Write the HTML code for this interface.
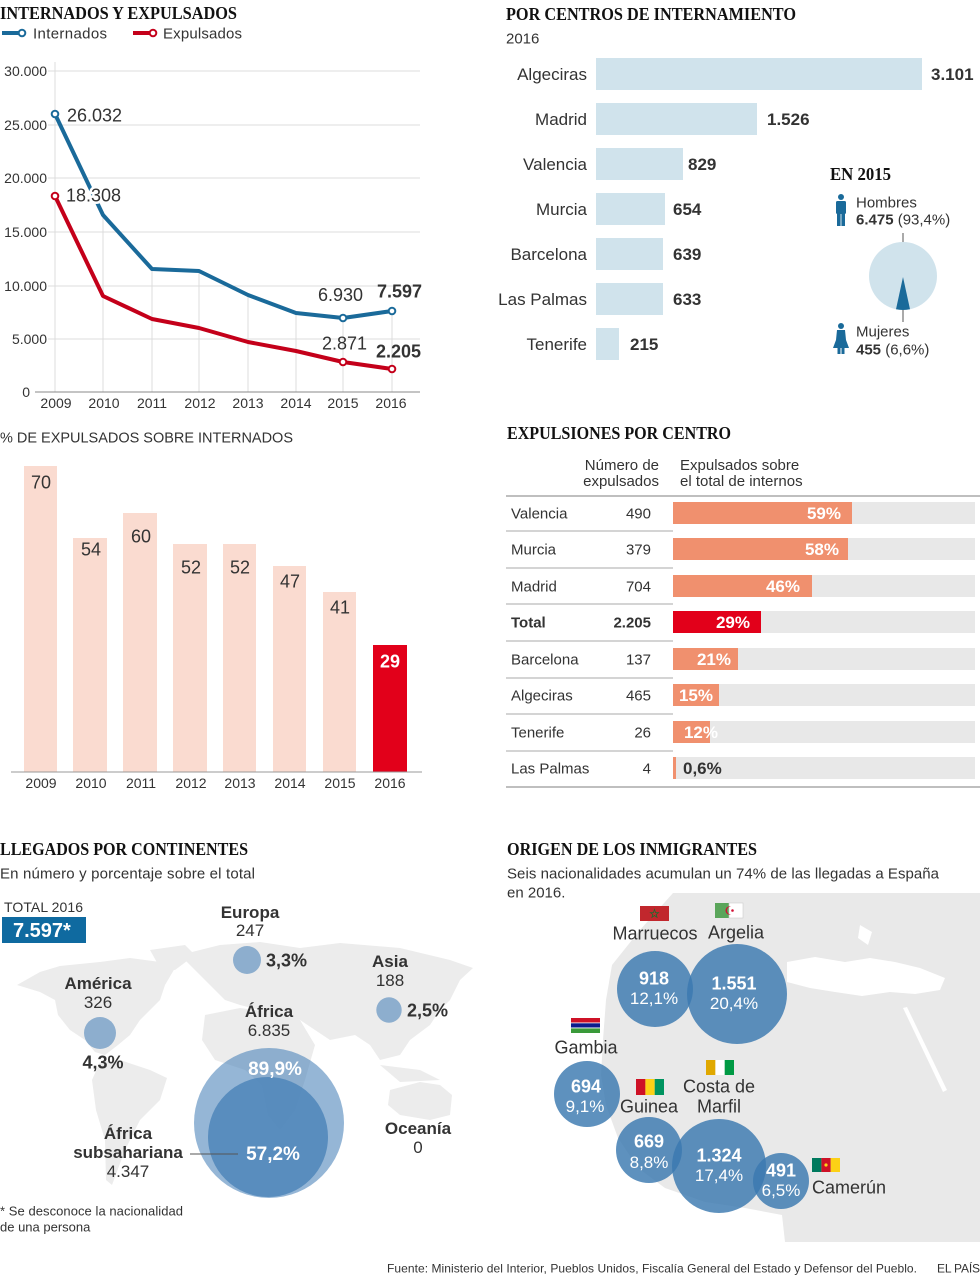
<!DOCTYPE html>
<html><head><meta charset="utf-8"><style>
html,body{margin:0;padding:0;background:#fff;}
svg{display:block;}
text{font-family:"Liberation Sans",sans-serif;fill:#333;}
.t{font-family:"Liberation Serif",serif;font-weight:bold;fill:#111;font-size:18px;}
.b{font-weight:bold;}
.w{fill:#fff;}
.halo{paint-order:stroke;stroke:#fff;stroke-width:5px;stroke-linejoin:round;}
</style></head><body>
<svg width="980" height="1280" viewBox="0 0 980 1280" xmlns="http://www.w3.org/2000/svg">
<rect width="980" height="1280" fill="#fff"/>

<!-- ============ LINE CHART ============ -->
<text class="t" x="0" y="19" textLength="237" lengthAdjust="spacingAndGlyphs">INTERNADOS Y EXPULSADOS</text>
<line x1="2" y1="33" x2="20" y2="33" stroke="#1a6a9a" stroke-width="4"/>
<circle cx="22" cy="33" r="3.3" fill="#fff" stroke="#1a6a9a" stroke-width="2"/>
<text x="33" y="38.5" font-size="15" textLength="74">Internados</text>
<line x1="133" y1="33" x2="151" y2="33" stroke="#c4001a" stroke-width="4"/>
<circle cx="153" cy="33" r="3.3" fill="#fff" stroke="#c4001a" stroke-width="2"/>
<text x="163" y="38.5" font-size="15" textLength="79">Expulsados</text>

<g stroke="#dcdcdc" stroke-width="1">
<line x1="48" y1="71" x2="420" y2="71"/>
<line x1="48" y1="125" x2="420" y2="125"/>
<line x1="48" y1="178" x2="420" y2="178"/>
<line x1="48" y1="232" x2="420" y2="232"/>
<line x1="48" y1="286" x2="420" y2="286"/>
<line x1="48" y1="339" x2="420" y2="339"/>
<line x1="55" y1="62" x2="55" y2="392"/>
<line x1="103" y1="215" x2="103" y2="392"/>
<line x1="152" y1="269" x2="152" y2="392"/>
<line x1="199" y1="271" x2="199" y2="392"/>
<line x1="248" y1="295" x2="248" y2="392"/>
<line x1="296" y1="313" x2="296" y2="392"/>
<line x1="343" y1="318" x2="343" y2="392"/>
<line x1="392" y1="311" x2="392" y2="392"/>
</g>
<line x1="35" y1="392" x2="420" y2="392" stroke="#888" stroke-width="1"/>
<g font-size="14" text-anchor="end" fill="#555">
<text x="47" y="76">30.000</text>
<text x="47" y="130">25.000</text>
<text x="47" y="183">20.000</text>
<text x="47" y="237">15.000</text>
<text x="47" y="291">10.000</text>
<text x="47" y="344">5.000</text>
<text x="30" y="397">0</text>
</g>
<g font-size="14" text-anchor="middle">
<text x="56" y="408">2009</text><text x="104" y="408">2010</text><text x="152" y="408">2011</text><text x="200" y="408">2012</text>
<text x="248" y="408">2013</text><text x="296" y="408">2014</text><text x="343" y="408">2015</text><text x="391" y="408">2016</text>
</g>
<polyline points="55,114 103,215 152,269 199,271 248,295 296,313 343,318 392,311" fill="none" stroke="#1a6a9a" stroke-width="4" stroke-linejoin="round"/>
<polyline points="55,196 103,296 152,319 199,328 248,342 296,351 343,362 392,369" fill="none" stroke="#c4001a" stroke-width="4" stroke-linejoin="round"/>
<g fill="#fff" stroke-width="2">
<circle cx="55" cy="114" r="3.3" stroke="#1a6a9a"/><circle cx="343" cy="318" r="3.3" stroke="#1a6a9a"/><circle cx="392" cy="311" r="3.3" stroke="#1a6a9a"/>
<circle cx="55" cy="196" r="3.3" stroke="#c4001a"/><circle cx="343" cy="362" r="3.3" stroke="#c4001a"/><circle cx="392" cy="369" r="3.3" stroke="#c4001a"/>
</g>
<g font-size="18" fill="#444">
<text x="67" y="121.5">26.032</text>
<text x="66" y="201.5" class="halo">18.308</text>
<text x="318" y="301">6.930</text>
<text x="322" y="349.5">2.871</text>
<text x="377" y="297.5" class="b">7.597</text>
<text x="376" y="357.5" class="b">2.205</text>
</g>

<!-- ============ POR CENTROS ============ -->
<text class="t" x="506" y="20" textLength="290" lengthAdjust="spacingAndGlyphs">POR CENTROS DE INTERNAMIENTO</text>
<text x="506" y="43.5" font-size="15">2016</text>
<g fill="#d0e3ec">
<rect x="596" y="58" width="326" height="32"/>
<rect x="596" y="103" width="161" height="32"/>
<rect x="596" y="148" width="87" height="32"/>
<rect x="596" y="193" width="69" height="32"/>
<rect x="596" y="238" width="67" height="32"/>
<rect x="596" y="283" width="67" height="32"/>
<rect x="596" y="328" width="23" height="32"/>
</g>
<g font-size="17" text-anchor="end" fill="#444">
<text x="587" y="80">Algeciras</text><text x="587" y="125">Madrid</text><text x="587" y="170">Valencia</text>
<text x="587" y="215">Murcia</text><text x="587" y="260">Barcelona</text><text x="587" y="305">Las Palmas</text><text x="587" y="350">Tenerife</text>
</g>
<g font-size="17" class="b">
<text x="931" y="80" class="b">3.101</text><text x="767" y="125" class="b">1.526</text><text x="688" y="170" class="b">829</text>
<text x="673" y="215" class="b">654</text><text x="673" y="260" class="b">639</text><text x="673" y="305" class="b">633</text><text x="630" y="350" class="b">215</text>
</g>
<text class="t" x="830" y="180" textLength="61" lengthAdjust="spacingAndGlyphs">EN 2015</text>
<g fill="#1a6a9a">
<circle cx="841" cy="197" r="3"/>
<rect x="836" y="201" width="10" height="13" rx="1.5"/>
<rect x="837" y="213" width="3.6" height="13"/>
<rect x="841.4" y="213" width="3.6" height="13"/>
</g>
<text x="856" y="207.5" font-size="15">Hombres</text>
<text x="856" y="224.5" font-size="15"><tspan class="b">6.475</tspan> (93,4%)</text>
<line x1="903" y1="233" x2="903" y2="248" stroke="#555" stroke-width="1"/>
<circle cx="903" cy="276" r="34" fill="#d0e3ec"/>
<path d="M903,277 L896,309.3 A34,34 0 0 0 910,309.3 Z" fill="#1a6a9a"/>
<line x1="903" y1="310" x2="903" y2="322" stroke="#555" stroke-width="1"/>
<g fill="#1a6a9a">
<circle cx="841" cy="326" r="3"/>
<path d="M837,330 L845,330 L846,340 L849,348 L833,348 L836,340 Z"/>
<rect x="837.5" y="347" width="3" height="7"/>
<rect x="841.5" y="347" width="3" height="7"/>
</g>
<text x="856" y="336.5" font-size="15">Mujeres</text>
<text x="856" y="354.5" font-size="15"><tspan class="b">455</tspan> (6,6%)</text>

<!-- ============ % BARS ============ -->
<text x="0" y="442.5" font-size="14.5" textLength="293">% DE EXPULSADOS SOBRE INTERNADOS</text>
<g fill="#fadbd0">
<rect x="24" y="466" width="33" height="306"/>
<rect x="73" y="538" width="34" height="234"/>
<rect x="123" y="513" width="34" height="259"/>
<rect x="173" y="544" width="34" height="228"/>
<rect x="223" y="544" width="33" height="228"/>
<rect x="273" y="566" width="33" height="206"/>
<rect x="323" y="592" width="33" height="180"/>
</g>
<rect x="373" y="645" width="34" height="127" fill="#e2001a"/>
<line x1="11" y1="772" x2="422" y2="772" stroke="#999" stroke-width="1"/>
<g font-size="18" text-anchor="middle" fill="#444">
<text x="41" y="488.5">70</text><text x="91" y="555.5">54</text><text x="141" y="542.5">60</text><text x="191" y="573.5">52</text>
<text x="240" y="573.5">52</text><text x="290" y="587.5">47</text><text x="340" y="613.5">41</text>
<text x="390" y="667.5" class="b w">29</text>
</g>
<g font-size="14" text-anchor="middle">
<text x="41" y="788">2009</text><text x="91" y="788">2010</text><text x="141" y="788">2011</text><text x="191" y="788">2012</text>
<text x="240" y="788">2013</text><text x="290" y="788">2014</text><text x="340" y="788">2015</text><text x="390" y="788">2016</text>
</g>

<!-- ============ TABLE ============ -->
<text class="t" x="507" y="439" textLength="224" lengthAdjust="spacingAndGlyphs">EXPULSIONES POR CENTRO</text>
<g font-size="15">
<text x="659" y="470" text-anchor="end">Número de</text>
<text x="659" y="486" text-anchor="end">expulsados</text>
<text x="680" y="470">Expulsados sobre</text>
<text x="680" y="486">el total de internos</text>
</g>
<line x1="506" y1="496" x2="980" y2="496" stroke="#999" stroke-width="1.2"/>
<line x1="506" y1="787" x2="980" y2="787" stroke="#999" stroke-width="1.2"/>
<g stroke="#bbb" stroke-width="1.2">
<line x1="506" y1="531" x2="673" y2="531"/><line x1="506" y1="568" x2="673" y2="568"/><line x1="506" y1="604" x2="673" y2="604"/>
<line x1="506" y1="641" x2="673" y2="641"/><line x1="506" y1="678" x2="673" y2="678"/><line x1="506" y1="714" x2="673" y2="714"/><line x1="506" y1="751" x2="673" y2="751"/>
</g>
<g fill="#e8e8e8">
<rect x="673" y="502" width="302" height="22"/><rect x="673" y="538" width="302" height="22"/><rect x="673" y="575" width="302" height="22"/>
<rect x="673" y="611" width="302" height="22"/><rect x="673" y="648" width="302" height="22"/><rect x="673" y="684" width="302" height="22"/>
<rect x="673" y="721" width="302" height="22"/><rect x="673" y="757" width="302" height="22"/>
</g>
<g fill="#f0906e">
<rect x="673" y="502" width="179" height="22"/><rect x="673" y="538" width="175" height="22"/><rect x="673" y="575" width="139" height="22"/>
<rect x="673" y="648" width="65" height="22"/><rect x="673" y="684" width="46" height="22"/>
<rect x="673" y="721" width="37" height="22"/><rect x="673" y="757" width="3" height="22"/>
</g>
<rect x="673" y="611" width="88" height="22" fill="#e2001a"/>
<g font-size="15">
<text x="511" y="518.5">Valencia</text><text x="511" y="554.5">Murcia</text><text x="511" y="591.5">Madrid</text>
<text x="511" y="627.5" class="b">Total</text><text x="511" y="664.5">Barcelona</text><text x="511" y="700.5">Algeciras</text>
<text x="511" y="737.5">Tenerife</text><text x="511" y="773.5">Las Palmas</text>
</g>
<g font-size="15" text-anchor="end">
<text x="651" y="518.5">490</text><text x="651" y="554.5">379</text><text x="651" y="591.5">704</text>
<text x="651" y="627.5" class="b">2.205</text><text x="651" y="664.5">137</text><text x="651" y="700.5">465</text>
<text x="651" y="737.5">26</text><text x="651" y="773.5">4</text>
</g>
<g font-size="17" text-anchor="end" class="b">
<text x="841" y="519" class="b w">59%</text><text x="839" y="555" class="b w">58%</text><text x="800" y="592" class="b w">46%</text>
<text x="750" y="628" class="b w">29%</text><text x="731" y="665" class="b w">21%</text><text x="713" y="701" class="b w">15%</text>
<text x="718" y="738" class="b w">12%</text>
</g>
<text x="683" y="774" font-size="17" class="b">0,6%</text>

<!-- ============ LLEGADOS POR CONTINENTES ============ -->
<text class="t" x="0" y="855" textLength="248" lengthAdjust="spacingAndGlyphs">LLEGADOS POR CONTINENTES</text>
<text x="0" y="878.5" font-size="15" textLength="255">En número y porcentaje sobre el total</text>
<g fill="#ececec">
<path d="M17,985 L40,972 L60,966 L100,962 L130,958 L160,962 L175,968 L165,985 L160,1000 L150,1010 L140,1020 L130,1035 L118,1045 L105,1055 L95,1052 L85,1040 L70,1030 L58,1015 L55,1000 L40,992 Z"/>
<path d="M150,950 L185,945 L195,955 L175,970 L160,968 Z"/>
<path d="M100,1062 L120,1060 L150,1070 L167,1078 L160,1100 L140,1120 L125,1150 L112,1185 L106,1180 L105,1140 L96,1110 L92,1080 Z"/>
<path d="M180,955 L220,945 L260,942 L300,948 L340,943 L400,948 L450,960 L473,968 L460,980 L450,1000 L440,1010 L430,1025 L410,1040 L400,1055 L380,1060 L370,1045 L355,1035 L330,1040 L315,1030 L300,1020 L280,1015 L260,1010 L240,1005 L225,1000 L215,990 L205,980 L195,970 Z"/>
<path d="M205,1015 L240,1008 L270,1012 L300,1020 L315,1045 L305,1080 L295,1110 L280,1130 L268,1115 L262,1085 L245,1070 L215,1060 L202,1040 Z"/>
<path d="M380,1065 L420,1070 L440,1080 L400,1082 Z"/>
<path d="M390,1090 L420,1082 L440,1085 L452,1095 L450,1115 L430,1120 L400,1115 L388,1105 Z"/>
</g>
<text x="4" y="912" font-size="14" textLength="79">TOTAL 2016</text>
<rect x="2" y="917" width="84" height="26" fill="#0f6aa0"/>
<text x="13" y="937" font-size="20" class="b w">7.597*</text>

<g fill="#4f86ba" fill-opacity="0.6">
<circle cx="247" cy="960" r="14"/>
<circle cx="389" cy="1010" r="12.7"/>
<circle cx="100" cy="1033" r="16"/>
<circle cx="269" cy="1123" r="75"/>
</g>
<circle cx="268" cy="1137" r="60" fill="#4f86ba" fill-opacity="0.85"/>
<line x1="190" y1="1154" x2="238" y2="1154" stroke="#555" stroke-width="1"/>
<g font-size="17" text-anchor="middle">
<text x="250" y="918" class="b">Europa</text><text x="250" y="936">247</text>
<text x="390" y="967" class="b">Asia</text><text x="390" y="986">188</text>
<text x="98" y="989" class="b">América</text><text x="98" y="1008">326</text>
<text x="269" y="1017" class="b">África</text><text x="269" y="1036">6.835</text>
<text x="128" y="1139" class="b">África</text><text x="128" y="1158" class="b">subsahariana</text><text x="128" y="1177">4.347</text>
<text x="418" y="1134" class="b">Oceanía</text><text x="418" y="1153">0</text>
</g>
<g font-size="18" class="b">
<text x="266" y="966.5" class="b">3,3%</text>
<text x="407" y="1016.5" class="b">2,5%</text>
<text x="103" y="1068.5" text-anchor="middle" class="b">4,3%</text>
</g>
<text x="275" y="1075" font-size="19" text-anchor="middle" class="b w">89,9%</text>
<text x="273" y="1160" font-size="19" text-anchor="middle" class="b w">57,2%</text>
<text x="0" y="1215.5" font-size="13" textLength="183">* Se desconoce la nacionalidad</text>
<text x="0" y="1231.5" font-size="13">de una persona</text>

<!-- ============ ORIGEN ============ -->
<text class="t" x="507" y="855" textLength="250" lengthAdjust="spacingAndGlyphs">ORIGEN DE LOS INMIGRANTES</text>
<text x="507" y="878.5" font-size="15" textLength="432">Seis nacionalidades acumulan un 74% de las llegadas a España</text>
<text x="507" y="897.5" font-size="15">en 2016.</text>
<path d="M673,893 L980,893 L980,1242 L785,1242 L782,1215 L745,1208 L705,1202 L665,1188 L638,1168 L618,1138 L606,1105 L601,1075 L603,1040 L606,1000 L612,965 L640,930 Z" fill="#e9e9e9"/>
<path d="M787,962 L815,957 L845,962 L870,958 L895,962 L920,968 L945,978 L940,990 L915,994 L890,992 L862,996 L835,992 L810,988 L787,982 Z" fill="#fff"/>
<path d="M860,925 L872,932 L868,945 L858,938 Z" fill="#fff"/>
<path d="M903,1008 L907,1007 L947,1090 L943,1092 Z" fill="#fff"/>
<g fill="#3b79b0" fill-opacity="0.82">
<circle cx="655" cy="989" r="38"/>
<circle cx="737" cy="994" r="50"/>
<circle cx="587" cy="1094" r="33"/>
<circle cx="649" cy="1150" r="33"/>
<circle cx="719" cy="1166" r="47"/>
<circle cx="781" cy="1181" r="28"/>
</g>
<rect x="640" y="906" width="29" height="15" fill="#c1272d"/>
<path d="M654.5,909.5 L655.6,912.6 L658.5,912.6 L656.2,914.4 L657,917.3 L654.5,915.5 L652,917.3 L652.8,914.4 L650.5,912.6 L653.4,912.6 Z" fill="none" stroke="#1e6b2e" stroke-width="0.8"/>
<rect x="715" y="903" width="14" height="15" fill="#5aa55a"/>
<rect x="729" y="903" width="14" height="15" fill="#fff" stroke="#ccc" stroke-width="0.6"/>
<path d="M731,906.5 A4.2,4.2 0 1 0 731,914.5 A3.3,3.3 0 1 1 731,906.5 Z" fill="#d21034"/>
<circle cx="732.5" cy="910.5" r="1.3" fill="#d21034"/>
<rect x="571" y="1018" width="29" height="4.5" fill="#ce1126"/>
<rect x="571" y="1023.3" width="29" height="4.2" fill="#0c1c8c"/>
<rect x="571" y="1028.4" width="29" height="4.6" fill="#3a9a3a"/>
<rect x="636" y="1079" width="9.4" height="16" fill="#ce1126"/>
<rect x="645.4" y="1079" width="9.3" height="16" fill="#fcd116"/>
<rect x="654.7" y="1079" width="9.3" height="16" fill="#009460"/>
<rect x="706" y="1060" width="9.4" height="15" fill="#e0a800"/>
<rect x="715.4" y="1060" width="9.3" height="15" fill="#fff"/>
<rect x="724.7" y="1060" width="9.3" height="15" fill="#009a44"/>
<rect x="812" y="1158" width="9.4" height="14" fill="#007a5e"/>
<rect x="821.4" y="1158" width="9.3" height="14" fill="#ce1126"/>
<rect x="830.7" y="1158" width="9.3" height="14" fill="#fcd116"/>
<circle cx="826" cy="1165" r="1.6" fill="#fcd116"/>
<g font-size="18" text-anchor="middle" fill="#333">
<text x="655" y="939.5">Marruecos</text>
<text x="736" y="938.5">Argelia</text>
<text x="586" y="1053.5">Gambia</text>
<text x="649" y="1112.5">Guinea</text>
<text x="719" y="1092.5">Costa de</text>
<text x="719" y="1112.5">Marfil</text>
</g>
<text x="812" y="1193.5" font-size="18">Camerún</text>
<g text-anchor="middle">
<text x="654" y="984.5" font-size="18" class="b w">918</text><text x="654" y="1004" font-size="17" class="w">12,1%</text>
<text x="734" y="989.5" font-size="18" class="b w">1.551</text><text x="734" y="1009" font-size="17" class="w">20,4%</text>
<text x="586" y="1092.5" font-size="18" class="b w">694</text><text x="585" y="1112" font-size="17" class="w">9,1%</text>
<text x="649" y="1147.5" font-size="18" class="b w">669</text><text x="649" y="1168" font-size="17" class="w">8,8%</text>
<text x="719" y="1161.5" font-size="18" class="b w">1.324</text><text x="719" y="1181" font-size="17" class="w">17,4%</text>
<text x="781" y="1176.5" font-size="18" class="b w">491</text><text x="781" y="1196" font-size="17" class="w">6,5%</text>
</g>

<text x="387" y="1272.5" font-size="12" textLength="530">Fuente: Ministerio del Interior, Pueblos Unidos, Fiscalía General del Estado y Defensor del Pueblo.</text>
<text x="937" y="1272.5" font-size="12" textLength="43">EL PAÍS</text>
</svg>
</body></html>
